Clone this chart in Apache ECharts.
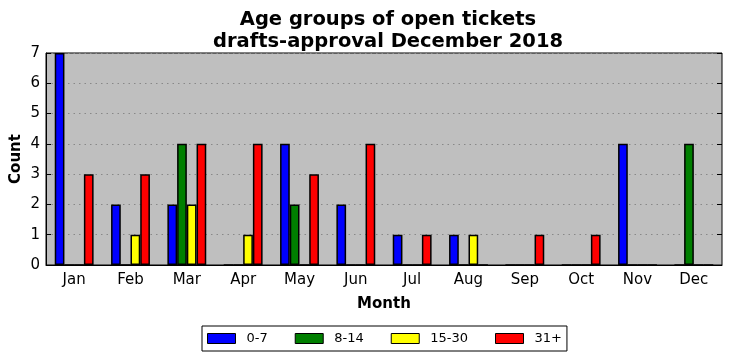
<!DOCTYPE html>
<html>
<head>
<meta charset="utf-8">
<script src="https://cdn.jsdelivr.net/npm/echarts@6/dist/echarts.min.js"></script>
<style>html,body{margin:0;padding:0;background:#fff;}#c{width:732px;height:361px;}</style>
</head>
<body>
<div id="c"></div>
<script>
const months = ['Jan','Feb','Mar','Apr','May','Jun','Jul','Aug','Sep','Oct','Nov','Dec'];
const seriesNames = ['0-7','8-14','15-30','31+'];
const s0_7   = [7,2,2,0,4,2,1,1,0,0,4,0];
const s8_14  = [0,0,4,0,2,0,0,0,0,0,0,4];
const s15_30 = [0,1,2,1,0,0,0,1,0,0,0,0];
const s31p   = [3,3,4,4,3,4,1,0,1,1,0,0];
const yTicks = [0,1,2,3,4,5,6,7];
const colors = ['#0000ff','#007f00','#ffff00','#ff0000'];
const values = [s0_7, s8_14, s15_30, s31p];

const font = 'DejaVu Sans';
const chart = echarts.init(document.getElementById('c'), null, {renderer:'canvas'});
chart.setOption({
  animation: false,
  textStyle: {fontFamily: font},
  title: {
    text: 'Age groups of open tickets\ndrafts-approval December 2018',
    left: 383, top: 4, textAlign: 'center',
    textStyle: {fontFamily: font, fontWeight: 'bold', fontSize: 19.5, lineHeight: 22, color: '#000'}
  },
  grid: {left: 46, right: 10, top: 53, bottom: 96, outerBoundsMode: 'none', containLabel: false,
         show: true, backgroundColor: '#bfbfbf', borderColor: '#000', borderWidth: 1},
  legend: {
    left: 202, top: 326,
    data: seriesNames,
    icon: 'rect', itemWidth: 28, itemHeight: 10, itemGap: 27,
    padding: [6, 5],
    borderColor: '#000', borderWidth: 1, borderRadius: 0,
    itemStyle: {borderColor: '#000', borderWidth: 1},
    textStyle: {fontFamily: font, fontSize: 13, color: '#000', padding: [0,0,0,6]}
  },
  xAxis: [
    {type: 'category', data: months, position: 'bottom',
     name: 'Month', nameLocation: 'middle', nameGap: 32, nameMoveOverlap: false,
     nameTextStyle: {fontFamily: font, fontWeight: 'bold', fontSize: 15, color: '#000'},
     axisLine: {lineStyle: {color: '#000'}},
     axisTick: {alignWithLabel: true, inside: true, length: 5, lineStyle: {color: '#000'}},
     axisLabel: {fontFamily: font, fontSize: 15, color: '#000', margin: 8}},
    {type: 'category', data: months, position: 'top',
     axisLine: {show: false},
     axisTick: {alignWithLabel: true, inside: true, length: 5, lineStyle: {color: '#000'}},
     axisLabel: {show: false}}
  ],
  yAxis: [
    {type: 'value', min: 0, max: 7, interval: 1,
     name: 'Count', nameLocation: 'middle', nameGap: 22, nameRotate: 90, nameMoveOverlap: false,
     nameTextStyle: {fontFamily: font, fontWeight: 'bold', fontSize: 15, color: '#000'},
     axisLine: {show: true, lineStyle: {color: '#000'}},
     axisTick: {show: true, inside: true, length: 5, lineStyle: {color: '#000'}},
     axisLabel: {fontFamily: font, fontSize: 15, color: '#000', margin: 6,
                 formatter: v => yTicks.includes(v) ? String(v) : ''},
     splitLine: {show: true, lineStyle: {color: '#888', type: [1.5, 4], width: 1}}},
    {type: 'value', min: 0, max: 7, interval: 1, position: 'right',
     axisLine: {show: false},
     axisTick: {show: true, inside: true, length: 5, lineStyle: {color: '#000'}},
     axisLabel: {show: false}, splitLine: {show: false}}
  ],
  series: seriesNames.map((n, i) => ({
    name: n, type: 'bar', xAxisIndex: 0, yAxisIndex: 0,
    data: values[i],
    barGap: '0%', barCategoryGap: '31%',
    itemStyle: {color: colors[i], borderColor: '#000', borderWidth: 1.5}
  }))
});
</script>
</body>
</html>
